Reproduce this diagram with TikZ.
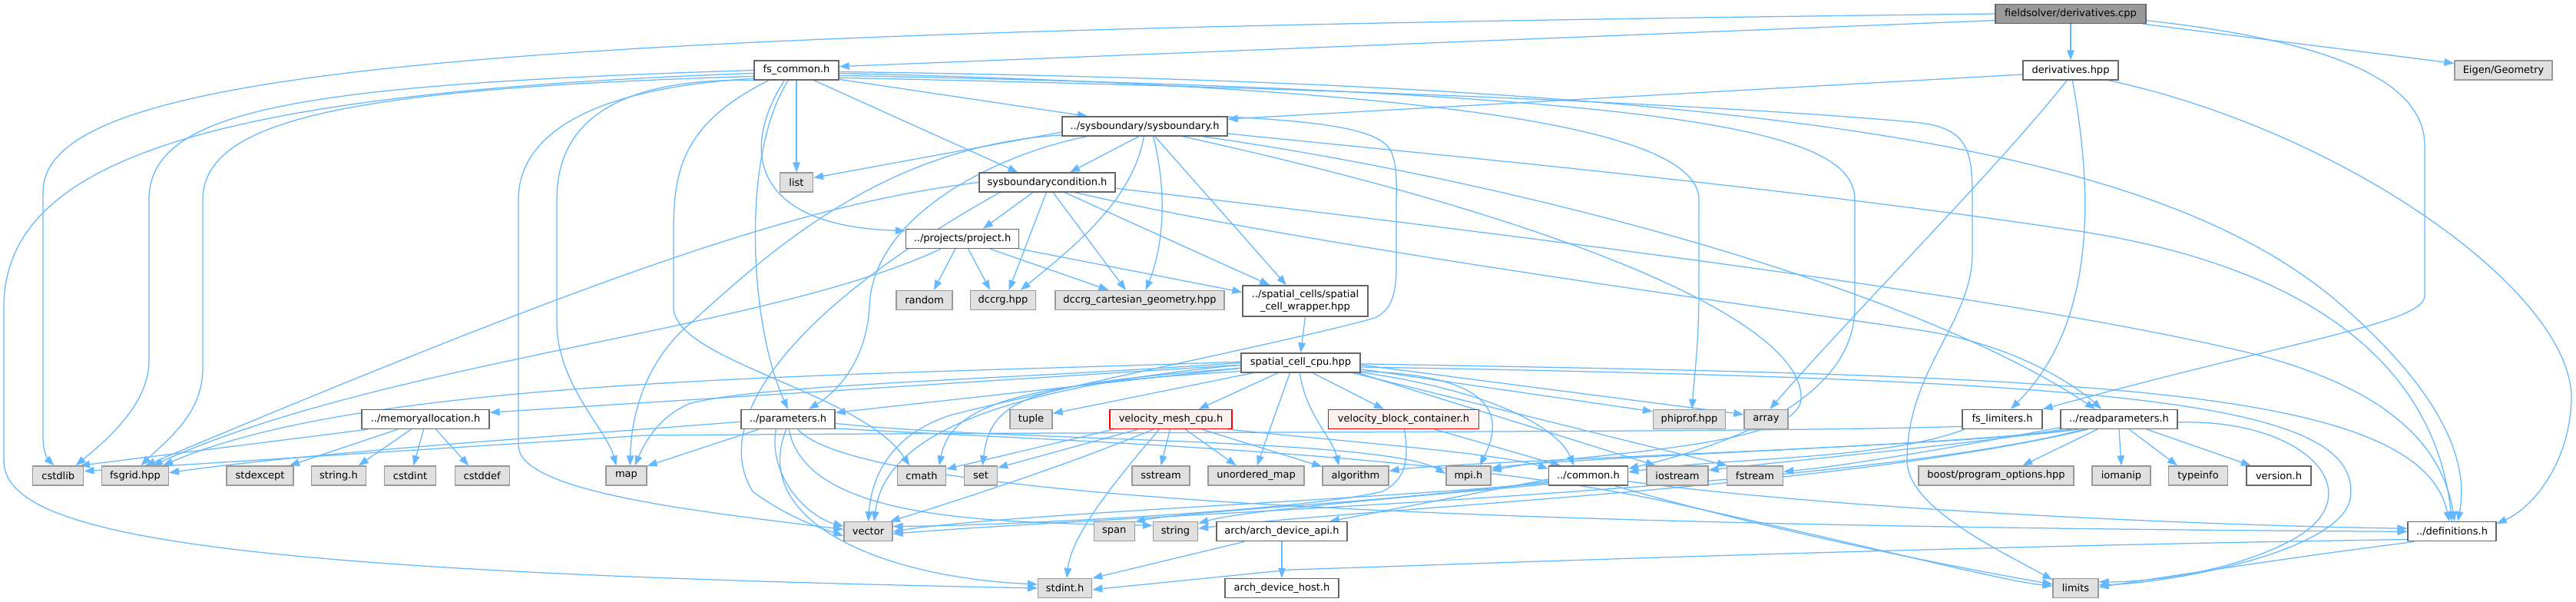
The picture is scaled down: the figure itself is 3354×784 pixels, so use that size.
\documentclass[tikz,border=0pt]{standalone}
\usepackage{fontspec}
\newfontfamily\dvsans{DejaVu Sans}
\usetikzlibrary{arrows.meta}
\definecolor{edgec}{HTML}{63B8FF}
\definecolor{grayfill}{HTML}{E0E0E0}
\definecolor{grayline}{HTML}{999999}
\definecolor{darkline}{HTML}{666666}
\definecolor{rootfill}{HTML}{999999}
\definecolor{redfill}{HTML}{FFF0F0}
\pgfdeclarelayer{bglayer}
\pgfdeclarelayer{edgelayer}
\pgfsetlayers{bglayer,edgelayer,main}
\tikzset{
  nd/.style={draw=darkline, fill=white, line width=1.3pt, minimum height=25pt, inner sep=0pt, font=\dvsans\fontsize{13}{15.6}\selectfont, text=black},
  gr/.style={nd, draw=grayline, fill=grayfill},
  rd/.style={nd, draw=red, fill=redfill},
  rt/.style={nd, fill=rootfill},
  e/.style={draw=edgec, line width=1.25pt, -{Triangle[length=13pt,width=9.5pt]}},
}
\begin{document}
\begin{tikzpicture}[x=1pt,y=-1pt]
\begin{pgfonlayer}{bglayer}
\fill[white] (0,0) rectangle (3354,784);
\end{pgfonlayer}
\useasboundingbox (0,0) rectangle (3354,784);
% nodes
\node[rt, minimum width=196pt] (R) at (2696,18) {fieldsolver/derivatives.cpp};
\node[nd, minimum width=124pt] (D) at (2696,91.5) {derivatives.hpp};
\node[gr, minimum width=127pt] (EG) at (3259.5,91.5) {Eigen/Geometry};
\node[nd, minimum width=110pt] (F) at (1037,91.5) {fs\_common.h};
\node[nd, minimum width=215pt] (SB) at (1490.5,164.5) {../sysboundary/sysboundary.h};
\node[gr, minimum width=43pt] (LIST) at (1037,237.5) {list};
\node[nd, minimum width=177pt] (SBC) at (1363.5,237.5) {sysboundarycondition.h};
\node[nd, minimum width=147pt] (P) at (1253,311) {../projects/project.h};
\node[gr, minimum width=73pt] (RANDOM) at (1203.5,391) {random};
\node[gr, minimum width=85pt] (DCCRG) at (1306,391) {dccrg.hpp};
\node[gr, minimum width=220pt] (DCG) at (1484,391) {dccrg\_cartesian\_geometry.hpp};
\node[nd, minimum width=163pt, minimum height=40pt, align=center] (W) at (1699.5,392) {../spatial\_cells/spatial\\\_cell\_wrapper.hpp};
\node[nd, minimum width=155pt] (SC) at (1693.5,472.5) {spatial\_cell\_cpu.hpp};
\node[nd, minimum width=166pt] (M) at (554,546) {../memoryallocation.h};
\node[nd, minimum width=122pt] (PA) at (1026,546) {../parameters.h};
\node[gr, minimum width=55pt] (TUPLE) at (1342.5,546) {tuple};
\node[rd, minimum width=159pt] (VM) at (1524.5,546) {velocity\_mesh\_cpu.h};
\node[rd, minimum width=196pt] (VB) at (1827.5,546) {velocity\_block\_container.h};
\node[gr, minimum width=94pt] (PHI) at (2199.5,546) {phiprof.hpp};
\node[gr, minimum width=57pt] (ARR) at (2299.5,546) {array};
\node[nd, minimum width=104pt] (FL) at (2607,546) {fs\_limiters.h};
\node[nd, minimum width=152pt] (RP) at (2759,546) {../readparameters.h};
\node[gr, minimum width=66pt] (CSTDLIB) at (75.8,619.5) {cstdlib};
\node[gr, minimum width=87pt] (FSGRID) at (176,619.5) {fsgrid.hpp};
\node[gr, minimum width=87pt] (STDEXCEPT) at (338.6,619.5) {stdexcept};
\node[gr, minimum width=71pt] (STRINGH) at (441,619.5) {string.h};
\node[gr, minimum width=67pt] (CSTDINT) at (534,619.5) {cstdint};
\node[gr, minimum width=71pt] (CSTDDEF) at (627.7,619.5) {cstddef};
\node[gr, minimum width=53pt] (MAP) at (815.5,619.5) {map};
\node[gr, minimum width=63pt] (CMATH) at (1200,619.5) {cmath};
\node[gr, minimum width=43pt] (SET) at (1277,619.5) {set};
\node[gr, minimum width=75pt] (SSTREAM) at (1511.5,619.5) {sstream};
\node[gr, minimum width=125pt] (UMAP) at (1635.5,619.5) {unordered\_map};
\node[gr, minimum width=86pt] (ALG) at (1765,619.5) {algorithm};
\node[gr, minimum width=58pt] (MPI) at (1912,619.5) {mpi.h};
\node[nd, minimum width=103pt] (COMMON) at (2068,619.5) {../common.h};
\node[gr, minimum width=80pt] (IOSTREAM) at (2184,619.5) {iostream};
\node[gr, minimum width=73pt] (FSTREAM) at (2285,619.5) {fstream};
\node[gr, minimum width=202pt] (BOOST) at (2599,619.5) {boost/program\_options.hpp};
\node[gr, minimum width=76pt] (IOMANIP) at (2762,619.5) {iomanip};
\node[gr, minimum width=77pt] (TYPEINFO) at (2862,619.5) {typeinfo};
\node[nd, minimum width=84pt] (VERSION) at (2967,619.5) {version.h};
\node[gr, minimum width=63pt] (VECTOR) at (1130.5,692.3) {vector};
\node[gr, minimum width=53pt] (SPAN) at (1450.7,692.3) {span};
\node[gr, minimum width=58pt] (STRING) at (1530.5,692.3) {string};
\node[nd, minimum width=170pt] (ARCHAPI) at (1669,692.3) {arch/arch\_device\_api.h};
\node[nd, minimum width=115pt] (DEFS) at (3192.5,692.3) {../definitions.h};
\node[gr, minimum width=70pt] (STDINT) at (1386.6,766) {stdint.h};
\node[nd, minimum width=148pt] (ARCHHOST) at (1669,766) {arch\_device\_host.h};
\node[gr, minimum width=59pt] (LIMITS) at (2702.5,766) {limits};

\begin{pgfonlayer}{edgelayer}
% root
\draw[e] (R.185) -- (F.5);
\draw[e] (R.west) .. controls (700,40) and (56,80) .. (56,250) -- (56,570) .. controls (56,592) and (64,600) .. (CSTDLIB.112);
\draw[e] (R.south) -- (D.north);
\draw[e] (R.-8) -- (EG.172);
\draw[e] (R.-5) .. controls (3050,55) and (3157,110) .. (3157,190) -- (3157,385) .. controls (3157,420) and (3000,440) .. (FL.north east);
% derivatives.hpp
\draw[e] (D.185) -- (SB.5);
\draw[e] (D.-110) .. controls (2600,220) and (2420,400) .. (ARR.70);
\draw[e] (D.-80) .. controls (2725,250) and (2730,420) .. (FL.50);
\draw[e] (D.-15) .. controls (3050,170) and (3350,380) .. (3348,520) .. controls (3346,600) and (3300,660) .. (DEFS.10);
% fs_common.h
\draw[e] (F.south) -- (LIST.north);
\draw[e] (F.-12) -- (SB.170);
\draw[e] (F.-30) -- (SBC.161);
\draw[e] (F.-140) .. controls (960,200) and (985,295) .. (P.172);
\draw[e] (F.-129) .. controls (965,200) and (975,420) .. (PA.north);
\draw[e] (F.-160) .. controls (890,160) and (877,220) .. (877,300) -- (877,400) .. controls (877,470) and (1120,510) .. (CMATH.140);
\draw[e] (F.195) .. controls (800,100) and (725,160) .. (725,260) -- (725,420) .. controls (725,500) and (790,560) .. (MAP.135);
\draw[e] (F.191) .. controls (760,115) and (675,180) .. (675,260) -- (675,580) .. controls (675,640) and (900,665) .. (VECTOR.175);
\draw[e] (F.180) .. controls (400,110) and (194,140) .. (194,260) -- (194,470) .. controls (194,530) and (130,580) .. (CSTDLIB.30);
\draw[e] (F.188) .. controls (480,115) and (264,150) .. (264,260) -- (264,480) .. controls (264,540) and (215,575) .. (FSGRID.60);
\draw[e] (F.184) .. controls (300,120) and (5,200) .. (5,400) -- (5,600) .. controls (5,700) and (300,745) .. (STDINT.west);
\draw[e] (F.-4) .. controls (1900,115) and (2212,170) .. (2212,260) -- (2212,380) .. controls (2212,450) and (2205,500) .. (PHI.75);
\draw[e] (F.-7) .. controls (2200,120) and (2415,170) .. (2415,260) -- (2415,400) .. controls (2415,520) and (2250,580) .. (COMMON.10);
\draw[e] (F.-10) .. controls (2000,120) and (2400,150) .. (2500,160) .. controls (2565,168) and (2568,200) .. (2568,260) -- (2568,330) .. controls (2568,420) and (2483,480) .. (2483,600) .. controls (2483,660) and (2600,715) .. (LIMITS.160);
\draw[e] (F.-2) .. controls (2300,110) and (2800,190) .. (3040,390) .. controls (3180,510) and (3215,600) .. (DEFS.60);
% sysboundary.h
\draw[e] (SB.184) -- (LIST.15);
\draw[e] (SB.-120) -- (SBC.24);
\draw[e] (SB.-95) .. controls (1475,260) and (1400,320) .. (DCCRG.30);
\draw[e] (SB.-50) .. controls (1520,250) and (1515,320) .. (DCG.60);
\draw[e] (SB.-45) -- (W.140);
\draw[e] (SB.-170) .. controls (1300,200) and (1135,280) .. (1132,400) .. controls (1128,470) and (1090,510) .. (PA.26);
\draw[e] (SB.186) .. controls (1150,190) and (1000,330) .. (900,420) .. controls (840,470) and (822,540) .. (MAP.70);
\draw[e] (SB.8) .. controls (1700,157) and (1793,165) .. (1810,195) .. controls (1820,215) and (1818,240) .. (1818,270) -- (1818,350) .. controls (1818,385) and (1810,405) .. (1790,414) .. controls (1700,440) and (1400,500) .. (1240,540) .. controls (1160,565) and (1135,620) .. (VECTOR.north);
\draw[e] (SB.-5) .. controls (1800,195) and (2300,240) .. (2700,300) .. controls (3000,345) and (3170,470) .. (DEFS.90);
\draw[e] (SB.-10) .. controls (2000,240) and (2500,380) .. (RP.157);
\draw[e] (SB.-15) .. controls (2050,290) and (2350,420) .. (2345,520) .. controls (2340,585) and (2050,590) .. (MPI.12);
% sysboundarycondition.h
\draw[e] (SBC.-145) -- (P.26);
\draw[e] (SBC.-95) -- (DCCRG.60);
\draw[e] (SBC.-60) -- (DCG.144);
\draw[e] (SBC.-30) -- (W.156);
\draw[e] (SBC.west) .. controls (1050,265) and (800,350) .. (FSGRID.45);
\draw[e] (SBC.-20) .. controls (1700,320) and (2300,400) .. (2500,430) .. controls (2620,448) and (2700,500) .. (RP.150);
\draw[e] (SBC.-5) .. controls (2100,320) and (2700,400) .. (2950,465) .. controls (3110,510) and (3180,580) .. (DEFS.75);
\draw[e] (SBC.-168) .. controls (1000,420) and (930,560) .. (980,640) .. controls (1020,670) and (1060,685) .. (VECTOR.190);
% project.h
\draw[e] (P.-125) -- (RANDOM.47);
\draw[e] (P.-60) -- (DCCRG.142);
\draw[e] (P.-20) -- (DCG.162);
\draw[e] (P.-10) -- (W.172);
\draw[e] (P.-155) .. controls (1000,430) and (500,470) .. (FSGRID.30);
% wrapper
\draw[e] (W.south) -- (SC.north);
% spatial_cell_cpu.hpp
\draw[e] (SC.182) -- (M.6);
\draw[e] (SC.185) -- (PA.8);
\draw[e] (SC.180) .. controls (1300,495) and (1000,500) .. (900,525) .. controls (860,540) and (840,575) .. (MAP.50);
\draw[e] (SC.-168) -- (TUPLE.15);
\draw[e] (SC.-156) -- (VM.20);
\draw[e] (SC.-40) -- (VB.153);
\draw[e] (SC.-95) .. controls (1700,540) and (1735,570) .. (ALG.149);
\draw[e] (SC.-137) -- (UMAP.85);
\draw[e] (SC.-6) -- (PHI.168);
\draw[e] (SC.-2) -- (ARR.168);
\draw[e] (SC.-8) .. controls (1945,488) and (1960,540) .. (MPI.42);
\draw[e] (SC.-9) .. controls (1950,510) and (2030,560) .. (COMMON.145);
\draw[e] (SC.-10) -- (IOSTREAM.155);
\draw[e] (SC.-11) -- (FSTREAM.160);
\draw[e] (SC.-1) .. controls (2700,490) and (3150,500) .. (DEFS.105);
\draw[e] (SC.-4) .. controls (2750,495) and (3080,520) .. (3060,650) .. controls (3045,720) and (2820,760) .. (LIMITS.8);
\draw[e] (SC.-172) .. controls (1350,500) and (1240,520) .. (CMATH.30);
\draw[e] (SC.-175) .. controls (1350,500) and (1290,515) .. (SET.80);
\draw[e] (SC.-178) .. controls (1250,510) and (1150,585) .. (VECTOR.60);
\draw[e] (SC.179) .. controls (1100,490) and (480,490) .. (FSGRID.20);
% velocity_mesh_cpu.h
\draw[e] (VM.-170) -- (CMATH.15);
\draw[e] (VM.-163) -- (SET.25);
\draw[e] (VM.-150) .. controls (1380,610) and (1220,660) .. (VECTOR.25);
\draw[e] (VM.-139) .. controls (1440,640) and (1395,700) .. (STDINT.80);
\draw[e] (VM.-95) -- (SSTREAM.north);
\draw[e] (VM.-35) -- (UMAP.153);
\draw[e] (VM.-18) -- (ALG.165);
\draw[e] (VM.-10) .. controls (1750,575) and (1950,590) .. (COMMON.170);
% velocity_block_container.h
\draw[e] (VB.-18) -- (COMMON.160);
\draw[e] (VB.-85) .. controls (1835,600) and (1830,625) .. (1800,640) .. controls (1700,665) and (1300,685) .. (VECTOR.12);
% common.h
\draw[e] (COMMON.-170) .. controls (1800,650) and (1300,670) .. (VECTOR.east);
\draw[e] (COMMON.-172) .. controls (1800,655) and (1550,665) .. (SPAN.25);
\draw[e] (COMMON.-168) .. controls (1800,650) and (1620,665) .. (STRING.20);
\draw[e] (COMMON.-175) -- (ARCHAPI.12);
\draw[e] (COMMON.-21) .. controls (2300,690) and (2550,740) .. (LIMITS.170);
\draw[e] (COMMON.-8) .. controls (2400,665) and (2900,685) .. (DEFS.176);
% arch
\draw[e] (ARCHAPI.-165) -- (STDINT.20);
\draw[e] (ARCHAPI.south) -- (ARCHHOST.north);
% definitions
\draw[e] (DEFS.-170) .. controls (2500,712) and (1900,735) .. (1680,742) -- (STDINT.-3);
\draw[e] (DEFS.-165) .. controls (2950,730) and (2800,755) .. (LIMITS.3);
% readparameters
\draw[e] (RP.-155) -- (BOOST.21);
\draw[e] (RP.south) -- (IOMANIP.north);
\draw[e] (RP.-45) -- (TYPEINFO.154);
\draw[e] (RP.-20) -- (VERSION.160);
\draw[e] (RP.-3) .. controls (3000,545) and (3090,640) .. (2990,700) .. controls (2910,745) and (2800,758) .. (LIMITS.15);
\draw[e] (RP.-172) .. controls (2600,572) and (2420,605) .. (FSTREAM.8);
\draw[e] (RP.-170) .. controls (2600,575) and (2330,600) .. (IOSTREAM.10);
\draw[e] (RP.-168) .. controls (2550,580) and (2050,595) .. (MPI.18);
\draw[e] (RP.-166) .. controls (2550,582) and (1900,600) .. (ALG.8);
\draw[e] (RP.-164) .. controls (2400,640) and (1500,668) .. (VECTOR.-5);
\draw[e] (RP.-162) .. controls (2400,635) and (1800,660) .. (STRING.8);
% fs_limiters
\draw[e] (FL.-170) .. controls (2300,564) and (1400,562) .. (840,567) -- (CSTDLIB.10);
\draw[e] (FL.-165) .. controls (2450,600) and (2250,595) .. (COMMON.5);
% parameters
\draw[e] (PA.-161) -- (MAP.25);
\draw[e] (PA.-140) .. controls (1000,620) and (1050,672) .. (VECTOR.168);
\draw[e] (PA.-100) .. controls (975,680) and (1150,752) .. (STDINT.172);
\draw[e] (PA.-85) .. controls (1050,680) and (1300,680) .. (STRING.165);
\draw[e] (PA.-46) .. controls (1120,650) and (1900,685) .. (DEFS.west);
\draw[e] (PA.-11) .. controls (1400,575) and (1900,590) .. (2200,660) .. controls (2450,715) and (2600,755) .. (LIMITS.175);
\draw[e] (PA.-5) .. controls (1300,575) and (1800,570) .. (MPI.175);
\draw[e] (PA.183) .. controls (700,570) and (400,590) .. (FSGRID.5);
% memoryallocation
\draw[e] (M.190) -- (CSTDLIB.25);
\draw[e] (M.-160) -- (STDEXCEPT.19);
\draw[e] (M.-145) -- (STRINGH.27);
\draw[e] (M.-100) -- (CSTDINT.72);
\draw[e] (M.-44) -- (CSTDDEF.143);
\end{pgfonlayer}
\end{tikzpicture}
\end{document}
